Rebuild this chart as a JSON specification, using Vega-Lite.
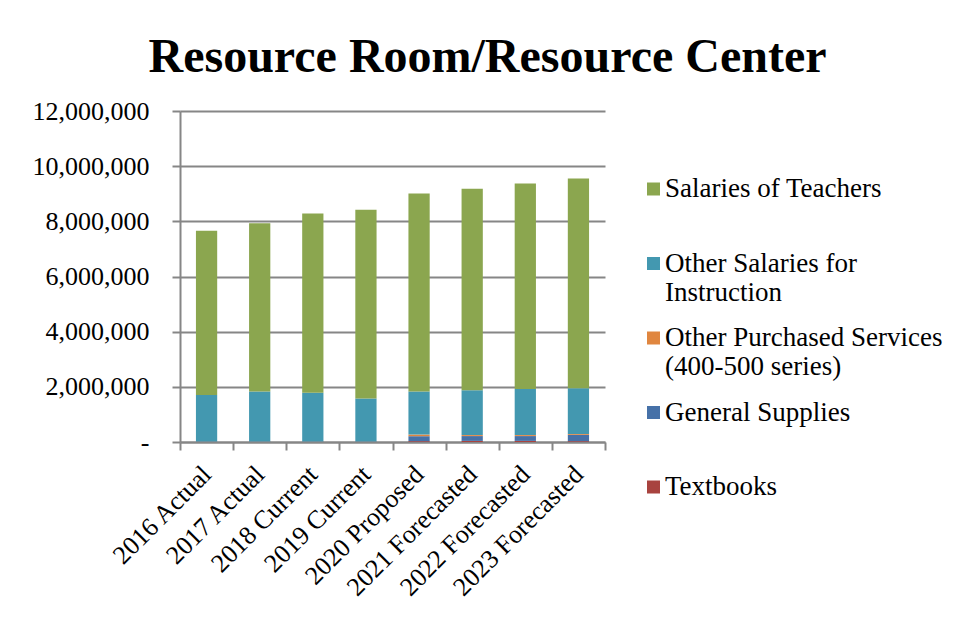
{
  "$schema": "https://vega.github.io/schema/vega-lite/v6.json",
  "autosize": {"type": "none"},
  "padding": {"left": 180, "top": 111, "right": 355, "bottom": 179},
  "width": 425,
  "height": 331,
  "background": "white",
  "title": {
    "text": "Resource Room/Resource Center",
    "font": "Liberation Serif",
    "fontSize": 48,
    "fontWeight": "bold",
    "color": "black",
    "anchor": "middle",
    "frame": "group",
    "dx": 95,
    "baseline": "alphabetic",
    "offset": -22
  },
  "data": {
    "values": [
      {"year": "2016 Actual", "series": "Textbooks", "rank": 1, "value": 5000},
      {"year": "2016 Actual", "series": "General Supplies", "rank": 2, "value": 10000},
      {"year": "2016 Actual", "series": "Other Purchased Services (400-500 series)", "rank": 3, "value": 5000},
      {"year": "2016 Actual", "series": "Other Salaries for Instruction", "rank": 4, "value": 1680000},
      {"year": "2016 Actual", "series": "Salaries of Teachers", "rank": 5, "value": 5960000},
      {"year": "2017 Actual", "series": "Textbooks", "rank": 1, "value": 5000},
      {"year": "2017 Actual", "series": "General Supplies", "rank": 2, "value": 10000},
      {"year": "2017 Actual", "series": "Other Purchased Services (400-500 series)", "rank": 3, "value": 5000},
      {"year": "2017 Actual", "series": "Other Salaries for Instruction", "rank": 4, "value": 1810000},
      {"year": "2017 Actual", "series": "Salaries of Teachers", "rank": 5, "value": 6100000},
      {"year": "2018 Current", "series": "Textbooks", "rank": 1, "value": 5000},
      {"year": "2018 Current", "series": "General Supplies", "rank": 2, "value": 10000},
      {"year": "2018 Current", "series": "Other Purchased Services (400-500 series)", "rank": 3, "value": 5000},
      {"year": "2018 Current", "series": "Other Salaries for Instruction", "rank": 4, "value": 1770000},
      {"year": "2018 Current", "series": "Salaries of Teachers", "rank": 5, "value": 6490000},
      {"year": "2019 Current", "series": "Textbooks", "rank": 1, "value": 5000},
      {"year": "2019 Current", "series": "General Supplies", "rank": 2, "value": 10000},
      {"year": "2019 Current", "series": "Other Purchased Services (400-500 series)", "rank": 3, "value": 5000},
      {"year": "2019 Current", "series": "Other Salaries for Instruction", "rank": 4, "value": 1555000},
      {"year": "2019 Current", "series": "Salaries of Teachers", "rank": 5, "value": 6845000},
      {"year": "2020 Proposed", "series": "Textbooks", "rank": 1, "value": 30000},
      {"year": "2020 Proposed", "series": "General Supplies", "rank": 2, "value": 180000},
      {"year": "2020 Proposed", "series": "Other Purchased Services (400-500 series)", "rank": 3, "value": 60000},
      {"year": "2020 Proposed", "series": "Other Salaries for Instruction", "rank": 4, "value": 1560000},
      {"year": "2020 Proposed", "series": "Salaries of Teachers", "rank": 5, "value": 7180000},
      {"year": "2021 Forecasted", "series": "Textbooks", "rank": 1, "value": 40000},
      {"year": "2021 Forecasted", "series": "General Supplies", "rank": 2, "value": 175000},
      {"year": "2021 Forecasted", "series": "Other Purchased Services (400-500 series)", "rank": 3, "value": 35000},
      {"year": "2021 Forecasted", "series": "Other Salaries for Instruction", "rank": 4, "value": 1630000},
      {"year": "2021 Forecasted", "series": "Salaries of Teachers", "rank": 5, "value": 7300000},
      {"year": "2022 Forecasted", "series": "Textbooks", "rank": 1, "value": 40000},
      {"year": "2022 Forecasted", "series": "General Supplies", "rank": 2, "value": 175000},
      {"year": "2022 Forecasted", "series": "Other Purchased Services (400-500 series)", "rank": 3, "value": 35000},
      {"year": "2022 Forecasted", "series": "Other Salaries for Instruction", "rank": 4, "value": 1670000},
      {"year": "2022 Forecasted", "series": "Salaries of Teachers", "rank": 5, "value": 7450000},
      {"year": "2023 Forecasted", "series": "Textbooks", "rank": 1, "value": 30000},
      {"year": "2023 Forecasted", "series": "General Supplies", "rank": 2, "value": 230000},
      {"year": "2023 Forecasted", "series": "Other Purchased Services (400-500 series)", "rank": 3, "value": 30000},
      {"year": "2023 Forecasted", "series": "Other Salaries for Instruction", "rank": 4, "value": 1660000},
      {"year": "2023 Forecasted", "series": "Salaries of Teachers", "rank": 5, "value": 7600000}
    ]
  },
  "mark": {"type": "bar", "width": {"band": 0.4}},
  "encoding": {
    "x": {
      "field": "year",
      "type": "nominal",
      "sort": null,
      "title": null,
      "scale": {"paddingInner": 0, "paddingOuter": 0},
      "axis": {
        "labelAngle": -45,
        "labelAlign": "right",
        "labelBaseline": "middle",
        "labelFont": "Liberation Serif",
        "labelFontSize": 26,
        "labelColor": "black",
        "labelLimit": 300,
        "tickBand": "extent",
        "tickSize": 8,
        "tickColor": "#868686",
        "tickWidth": 2,
        "domainColor": "#868686",
        "domainWidth": 2,
        "labelPadding": 20,
        "grid": false
      }
    },
    "y": {
      "field": "value",
      "type": "quantitative",
      "stack": "zero",
      "title": null,
      "scale": {"domain": [0, 12000000], "nice": false},
      "axis": {
        "values": [0, 2000000, 4000000, 6000000, 8000000, 10000000, 12000000],
        "labelExpr": "datum.value == 0 ? '-' : format(datum.value, ',')",
        "labelFont": "Liberation Serif",
        "labelFontSize": 26,
        "labelColor": "black",
        "labelPadding": 23,
        "tickSize": 8,
        "tickColor": "#868686",
        "tickWidth": 2,
        "domainColor": "#868686",
        "domainWidth": 2,
        "grid": true,
        "gridColor": "#868686",
        "gridWidth": 2
      }
    },
    "color": {
      "field": "series",
      "type": "nominal",
      "scale": {
        "domain": ["Salaries of Teachers", "Other Salaries for Instruction", "Other Purchased Services (400-500 series)", "General Supplies", "Textbooks"],
        "range": ["#8BA64F", "#4398B0", "#E0863F", "#4671A8", "#A8433F"]
      },
      "legend": {
        "title": null,
        "orient": "none",
        "legendX": 460,
        "legendY": 64.5,
        "symbolType": "square",
        "symbolSize": 169,
        "symbolStrokeWidth": 0,
        "labelFont": "Liberation Serif",
        "labelFontSize": 27,
        "labelColor": "black",
        "labelLimit": 400,
        "labelOffset": -2,
        "labelBaseline": "top",
        "labelLineHeight": 31,
        "rowPadding": 17.5,
        "labelExpr": "datum.label == 'Other Salaries for Instruction' ? ['Other Salaries for', 'Instruction'] : datum.label == 'Other Purchased Services (400-500 series)' ? ['Other Purchased Services', '(400-500 series)'] : [datum.label, '']",
        "encode": {"labels": {"update": {"dy": {"value": -13}}}}
      }
    },
    "order": {"field": "rank", "type": "quantitative"}
  },
  "config": {
    "view": {"stroke": null},
    "font": "Liberation Serif"
  }
}
